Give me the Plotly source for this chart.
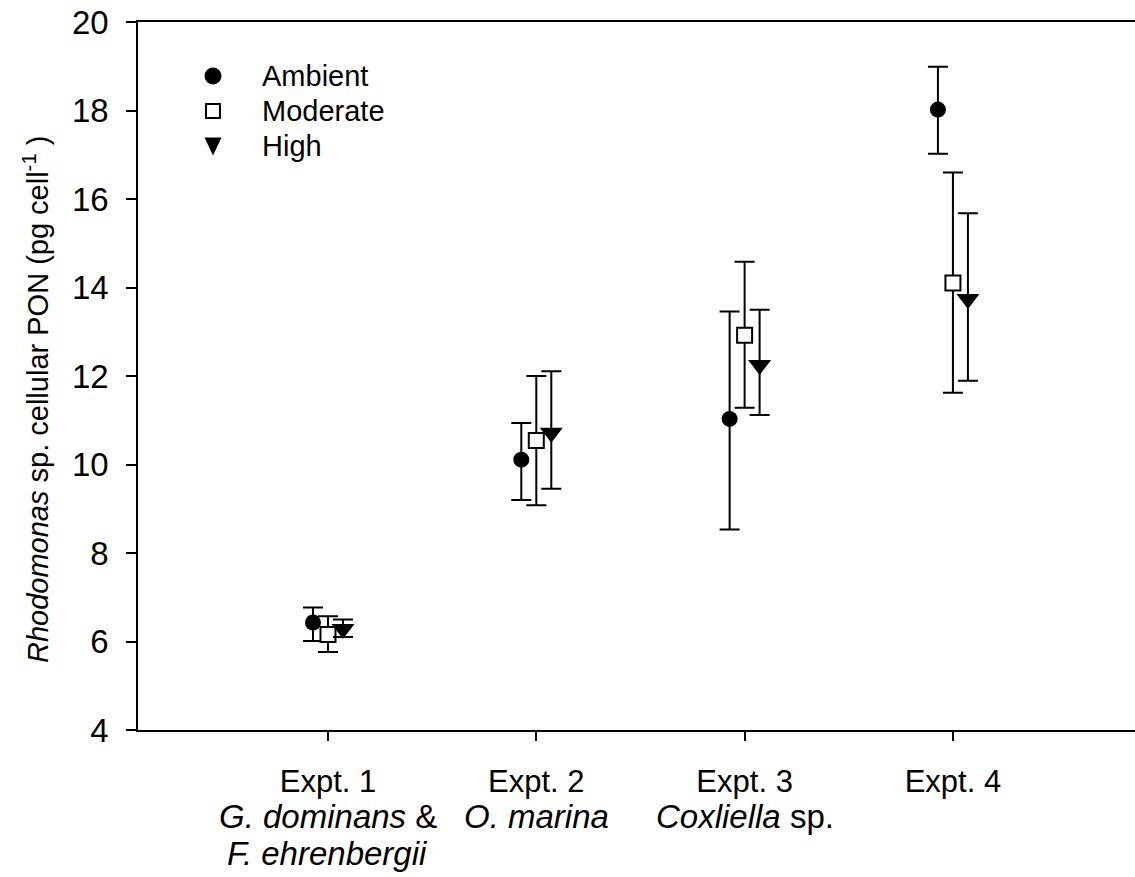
import plotly.graph_objects as go

experiments = [1, 2, 3, 4]
tick_labels = ["Expt. 1", "Expt. 2", "Expt. 3", "Expt. 4"]
species_line2 = ["<i>G. dominans</i> &", "<i>O. marina</i>", "<i>Coxliella</i> sp.", ""]
species_line3 = ["<i>F. ehrenbergii</i>", "", "", ""]

ambient = [6.43, 10.11, 11.03, 18.02]
ambient_up = [6.77, 10.94, 13.46, 18.99]
ambient_lo = [6.01, 9.20, 8.53, 17.02]

moderate = [6.16, 10.54, 12.92, 14.10]
moderate_up = [6.57, 12.00, 14.58, 16.60]
moderate_lo = [5.76, 9.08, 11.28, 11.62]

high = [6.28, 10.72, 12.25, 13.74]
high_up = [6.50, 12.11, 13.50, 15.68]
high_lo = [6.10, 9.45, 11.12, 11.89]

series_names = ["Ambient", "Moderate", "High"]
offsets = [-0.072, 0.0, 0.072]
FONT = "Liberation Sans, Arial, sans-serif"

markers = [
    dict(symbol="circle", size=16, color="black", line=dict(color="black", width=0)),
    dict(symbol="square", size=15, color="white", line=dict(color="black", width=2)),
    dict(symbol="triangle-down", size=20, color="black", line=dict(color="black", width=0)),
]

fig = go.Figure()
for name, vals, up, lo, marker, off in zip(
        series_names,
        [ambient, moderate, high],
        [ambient_up, moderate_up, high_up],
        [ambient_lo, moderate_lo, high_lo],
        markers, offsets):
    fig.add_trace(go.Scatter(
        x=[e + off for e in experiments],
        y=vals,
        mode="markers",
        name=name,
        marker=marker,
        showlegend=False,
        error_y=dict(
            type="data",
            symmetric=False,
            array=[u - v for u, v in zip(up, vals)],
            arrayminus=[v - l for v, l in zip(vals, lo)],
            color="black",
            thickness=2,
            width=10,
        ),
    ))

# plot area: x 138..1135 px, y 22..730 px
PLOT_W = 997.0
PLOT_H = 708.0
def xpaper(px):
    return (px - 138.0) / PLOT_W
def ypaper(px):
    return (730.0 - px) / PLOT_H

annotations = []
for e, t2, t3 in zip(experiments, species_line2, species_line3):
    if t2:
        annotations.append(dict(x=e, xref="x", y=ypaper(817), yref="paper",
                                text=t2, showarrow=False, xanchor="center", yanchor="middle",
                                font=dict(family=FONT, size=33, color="black")))
    if t3:
        annotations.append(dict(x=e, xref="x", y=ypaper(853), yref="paper",
                                text=t3, showarrow=False, xanchor="center", yanchor="middle",
                                font=dict(family=FONT, size=33, color="black")))

# y-axis title
annotations.append(dict(
    x=xpaper(36), xref="paper", y=ypaper(400), yref="paper",
    text="<i>Rhodomonas</i> sp. cellular PON (pg cell<sup>-1</sup> )",
    textangle=-90, showarrow=False, xanchor="center", yanchor="middle",
    font=dict(family=FONT, size=29, color="black"),
))

# legend (text + symbols)
legend_rows_y = [76, 111, 146]
legend_sym_x = 213
legend_text_x = 260
for name, ry in zip(series_names, legend_rows_y):
    annotations.append(dict(
        x=xpaper(legend_text_x), xref="paper", y=ypaper(ry), yref="paper",
        text=name, showarrow=False, xanchor="left", yanchor="middle",
        font=dict(family=FONT, size=29, color="black"),
    ))

shapes = [
    dict(type="circle", xref="paper", yref="paper",
         xsizemode="pixel", ysizemode="pixel",
         xanchor=xpaper(legend_sym_x), yanchor=ypaper(legend_rows_y[0]),
         x0=-8.5, x1=8.5, y0=-8.5, y1=8.5,
         fillcolor="black", line=dict(color="black", width=0)),
    dict(type="rect", xref="paper", yref="paper",
         xsizemode="pixel", ysizemode="pixel",
         xanchor=xpaper(legend_sym_x), yanchor=ypaper(legend_rows_y[1]),
         x0=-7, x1=7, y0=-7, y1=7,
         fillcolor="white", line=dict(color="black", width=2)),
    dict(type="path", xref="paper", yref="paper",
         xsizemode="pixel", ysizemode="pixel",
         xanchor=xpaper(legend_sym_x), yanchor=ypaper(legend_rows_y[2]),
         path="M -8.5,8.5 L 8.5,8.5 L 0,-9.5 Z",
         fillcolor="black", line=dict(color="black", width=0)),
]

fig.update_layout(
    width=1135,
    height=877,
    margin=dict(l=138, r=0, t=22, b=147),
    paper_bgcolor="white",
    plot_bgcolor="white",
    font=dict(family=FONT, size=30, color="black"),
    showlegend=False,
    annotations=annotations,
    shapes=shapes,
    xaxis=dict(
        range=[0.088, 4.874],
        tickmode="array",
        tickvals=experiments,
        ticktext=tick_labels,
        ticks="outside",
        ticklen=9,
        tickwidth=1.5,
        tickcolor="black",
        ticklabelstandoff=14,
        showline=True,
        linecolor="black",
        linewidth=2,
        mirror=True,
        showgrid=False,
        zeroline=False,
        tickfont=dict(family=FONT, size=31),
    ),
    yaxis=dict(
        range=[4, 20],
        tickvals=[4, 6, 8, 10, 12, 14, 16, 18, 20],
        ticks="outside",
        ticklen=10,
        tickwidth=1.5,
        tickcolor="black",
        ticklabelstandoff=11,
        showline=True,
        linecolor="black",
        linewidth=1.5,
        showgrid=False,
        zeroline=False,
        tickfont=dict(family=FONT, size=33),
    ),
)

fig.write_html("out.html")
